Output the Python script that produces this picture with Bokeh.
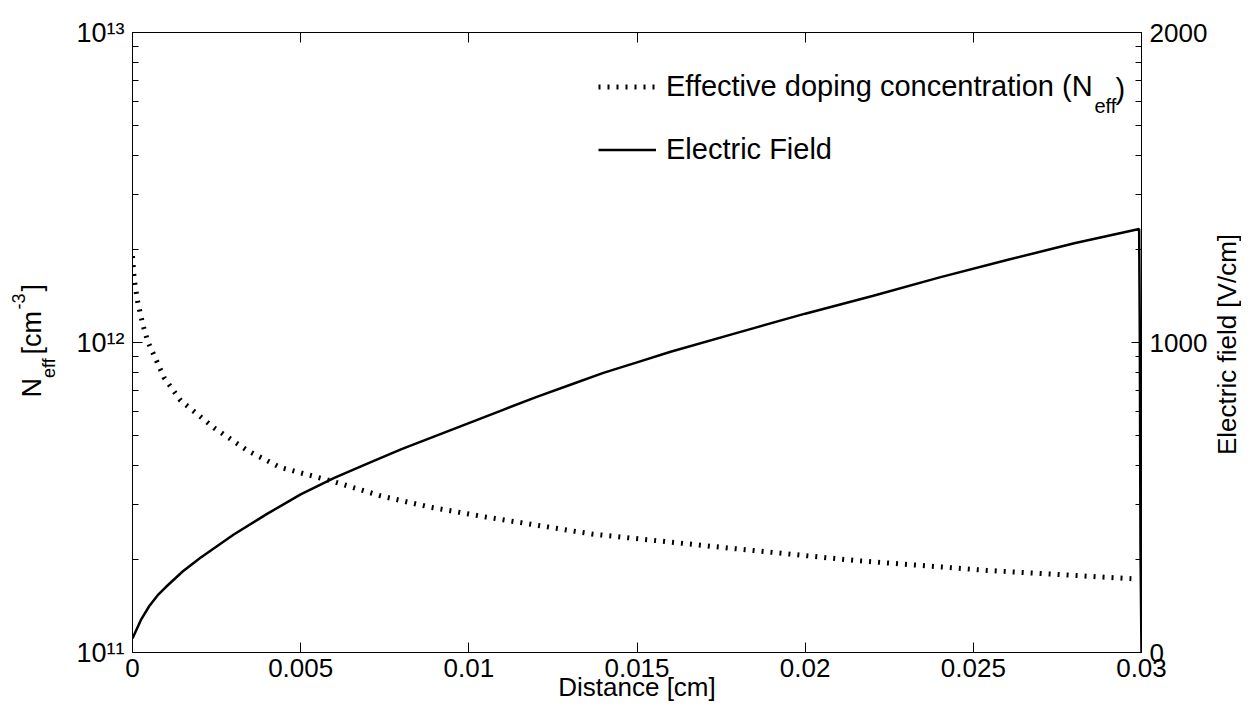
import numpy as np
from bokeh.plotting import figure
from bokeh.layouts import row
from bokeh.models import (Range1d, LinearAxis, LinearScale, FixedTicker, CustomJSTickFormatter,
                          Legend, LegendItem, Label)
from bokeh.embed import file_html
from bokeh.resources import INLINE

# ---------------- data ----------------
distance_neff = [0.0, 0.00005, 0.00015, 0.0003, 0.00045, 0.0007, 0.00094, 0.00143,
                 0.00243, 0.00342, 0.0044, 0.0059, 0.00738, 0.00887, 0.01055,
                 0.01367, 0.01758, 0.0215, 0.0254, 0.0297]
neff = [1.9e12, 1.6e12, 1.36e12, 1.15e12, 1.01e12, 8.8e11, 7.7e11, 6.5e11,
        5.3e11, 4.48e11, 3.95e11, 3.58e11, 3.2e11, 2.94e11, 2.73e11,
        2.41e11, 2.18e11, 1.98e11, 1.84e11, 1.73e11]

distance_field = [0.0, 0.00025, 0.0005, 0.00075, 0.001, 0.0015, 0.002, 0.003, 0.004,
                  0.005, 0.006, 0.007, 0.008, 0.009, 0.010, 0.011, 0.012, 0.013,
                  0.014, 0.015, 0.016, 0.018, 0.020, 0.022, 0.024, 0.026, 0.028,
                  0.02993, 0.02995, 0.02997, 0.0300]
electric_field = [45, 105, 150, 185, 212, 262, 304, 380, 447,
                  510, 563, 610, 656, 698, 740, 782, 824, 863,
                  902, 936, 970, 1032, 1093, 1150, 1210, 1266, 1320,
                  1366, 1020, 340, 0]

x_ticks = [0, 0.005, 0.01, 0.015, 0.02, 0.025, 0.03]
neff_ticks = [1e11, 1e12, 1e13]
neff_minor_ticks = [k * d for d in (1e11, 1e12) for k in range(2, 10)]
field_ticks = [0, 1000, 2000]

legend_labels = ["Effective doping concentration (N", "Electric Field"]
x_label = "Distance [cm]"
right_label = "Electric field [V/cm]"

FONT = "Liberation Sans"
BIG = "27px"
SMALL = "18px"
H = 708


def lab(fig, text, x, y, size, angle=0.0, align="left"):
    fig.add_layout(Label(x=x, y=y, x_units="screen", y_units="screen", text=text,
                         angle=angle, text_align=align, text_baseline="alphabetic",
                         text_font=FONT, text_font_size=size, text_color="black"))


def text_panel(width):
    f = figure(width=width, height=H, output_backend="svg", toolbar_location=None,
               x_range=Range1d(0, 1), y_range=Range1d(0, 1),
               x_axis_location=None, y_axis_location=None,
               min_border=0, min_border_left=0, min_border_right=0,
               min_border_top=0, min_border_bottom=0)
    f.xgrid.visible = False
    f.ygrid.visible = False
    f.outline_line_color = None
    f.background_fill_color = "white"
    f.border_fill_color = "white"
    return f


# ---------------- main figure ----------------
p = figure(width=1150, height=H, output_backend="svg", toolbar_location=None,
           x_range=Range1d(x_ticks[0], x_ticks[-1]),
           y_range=Range1d(neff_ticks[0], neff_ticks[-1]), y_axis_type="log",
           min_border_left=72, min_border_right=67, min_border_top=32,
           min_border_bottom=56)
p.extra_y_ranges = {"field": Range1d(field_ticks[0], field_ticks[-1])}
p.extra_y_scales = {"field": LinearScale()}
p.xgrid.visible = False
p.ygrid.visible = False
p.outline_line_color = "black"
p.outline_line_width = 1
p.background_fill_color = "white"
p.border_fill_color = "white"


def style_axis(ax, size=BIG):
    ax.axis_line_color = "black"
    ax.major_tick_line_color = "black"
    ax.minor_tick_line_color = "black"
    ax.major_tick_out = 0
    ax.minor_tick_out = 0
    ax.major_label_text_font = FONT
    ax.major_label_text_font_size = size
    ax.major_label_text_color = "black"


# bottom axis
xa = p.xaxis[0]
style_axis(xa, "26px")
xa.ticker = FixedTicker(ticks=x_ticks)
xa.formatter = CustomJSTickFormatter(code="return String(parseFloat(tick.toFixed(4)));")
xa.major_tick_in = 10
xa.minor_tick_in = 0
xa.major_label_standoff = 6
xa.axis_label = x_label
xa.axis_label_text_font = FONT
xa.axis_label_text_font_size = "26px"
xa.axis_label_text_font_style = "normal"
xa.axis_label_text_color = "black"
xa.axis_label_standoff = -8

# left log axis
ya = p.yaxis[0]
style_axis(ya)
ya.ticker = FixedTicker(ticks=neff_ticks, minor_ticks=neff_minor_ticks)
ya.formatter = CustomJSTickFormatter(code="""
const sup = {'0':'\u2070','1':'\u00b9','2':'\u00b2','3':'\u00b3','4':'\u2074','5':'\u2075',
             '6':'\u2076','7':'\u2077','8':'\u2078','9':'\u2079','-':'\u207b'};
const e = Math.round(Math.log10(tick));
return '10' + String(e).split('').map(c => sup[c]).join('');
""")
ya.major_tick_in = 10
ya.minor_tick_in = 6
ya.major_label_standoff = 8

# top mirrored ticks
top = LinearAxis(ticker=FixedTicker(ticks=x_ticks))
style_axis(top)
top.major_tick_in = 10
top.minor_tick_in = 0
top.major_label_text_font_size = "0px"
top.major_label_text_alpha = 0
top.major_label_standoff = 0
p.add_layout(top, "above")

# right axis (electric field) with the log minor ticks mirrored on it
lo, hi = np.log10(neff_ticks[0]), np.log10(neff_ticks[-1])
mirror_minor = [field_ticks[0] + (field_ticks[-1] - field_ticks[0]) * (np.log10(v) - lo) / (hi - lo)
                for v in neff_minor_ticks]
ra = LinearAxis(y_range_name="field",
                ticker=FixedTicker(ticks=field_ticks, minor_ticks=mirror_minor))
style_axis(ra, "26px")
ra.major_tick_in = 10
ra.minor_tick_in = 6
ra.major_label_standoff = 8
p.add_layout(ra, "right")

# data lines
n_line = p.line(distance_neff, neff, line_color="black", line_width=5,
                line_dash="2 7", line_cap="butt")
e_line = p.line(distance_field, electric_field, y_range_name="field",
                line_color="black", line_width=2.5)

legend = Legend(items=[LegendItem(label=legend_labels[0], renderers=[n_line]),
                       LegendItem(label=legend_labels[1], renderers=[e_line])],
                location=(466, 486), padding=0, margin=0, spacing=30,
                glyph_width=58, glyph_height=31, label_height=31, label_standoff=10,
                label_text_font=FONT, label_text_font_size="29px",
                label_text_color="black",
                background_fill_alpha=0, border_line_alpha=0)
p.add_layout(legend)

# legend subscript pieces:  (N_eff)
lab(p, "eff", 962, 547, "20px")
lab(p, ")", 983, 564, "29px")

# ---------------- left text panel: N_eff [cm^-3] ----------------
left = text_panel(60)
a = np.pi / 2
lab(left, "N", 31, 255, BIG, a)
lab(left, "eff", 48, 274.5, SMALL, a)
lab(left, "[cm", 31, 298, BIG, a)
lab(left, "-3", 18, 343, SMALL, a)
lab(left, "]", 31, 361, BIG, a)

# ---------------- right text panel ----------------
right = text_panel(31)
lab(right, right_label, 16, 308, "26px", a, "center")

layout = row(left, p, right)
open("out.html", "w").write(file_html(layout, INLINE))
